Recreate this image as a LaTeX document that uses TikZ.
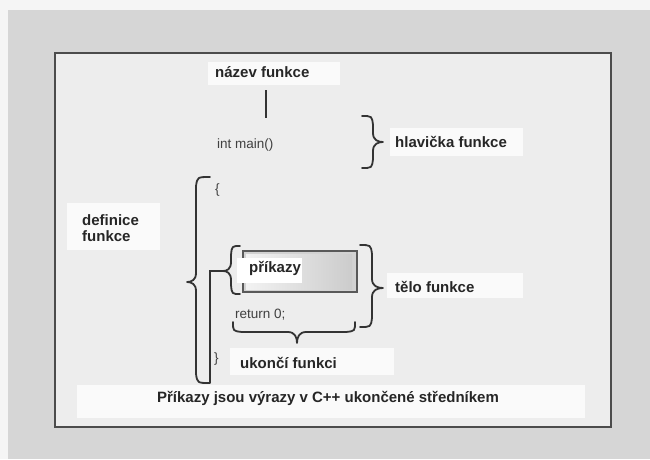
\documentclass[tikz,border=0pt]{standalone}
\usepackage{fontspec}
\setmainfont{Liberation Sans}
% vertical curly brace: end x, bar x, tip x, top y, tip y, bottom y
\newcommand{\braceV}[6]{%
  \draw[brc] (#1,#4) .. controls ({#2+0.1*(#1-#2)},#4) .. (#2,{#4+9})
    -- (#2,{#5-9}) .. controls (#2,{#5-2}) and ({0.5*(#2+#3)},#5) .. (#3,#5)
    .. controls ({0.5*(#2+#3)},#5) and (#2,{#5+2}) .. (#2,{#5+9})
    -- (#2,{#6-9}) .. controls ({#2+0.1*(#1-#2)},#6) .. (#1,#6);}
% horizontal curly brace: end y, bar y, tip y, left x, tip x, right x
\newcommand{\braceH}[6]{%
  \draw[brc] (#4,#1) .. controls (#4,{#2+0.1*(#1-#2)}) .. ({#4+9},#2)
    -- ({#5-9},#2) .. controls ({#5-2},#2) and (#5,{0.5*(#2+#3)}) .. (#5,#3)
    .. controls (#5,{0.5*(#2+#3)}) and ({#5+2},#2) .. ({#5+9},#2)
    -- ({#6-9},#2) .. controls (#6,{#2+0.1*(#1-#2)}) .. (#6,#1);}
\begin{document}
\begin{tikzpicture}[x=1pt,y=-1pt,
  lbl/.style={font=\fontsize{15}{15.5}\selectfont\bfseries, text=black!85,
    inner sep=0pt, anchor=base west, align=left},
  code/.style={font=\fontsize{13.5}{13.5}\selectfont, text=black!75,
    inner sep=0pt, anchor=base west},
  labelbg/.style={fill=white!96!gray, draw=none},
  brc/.style={draw=black!80, line width=1.8pt, line cap=round, line join=round},
]
\useasboundingbox (0,0) rectangle (650,459);
% page
\fill[gray!32] (0,0) rectangle (650,459);
\fill[gray!8] (0,0) rectangle (650,10);
\fill[gray!8] (0,0) rectangle (8,459);
% frame
\draw[draw=black!70, line width=1.8pt, fill=gray!14] (55,53) rectangle (611,427);

% label backgrounds
\fill[labelbg] (208,62) rectangle (340,85);
\fill[labelbg] (390,128) rectangle (523,156);
\fill[labelbg] (67,203) rectangle (160,250);
\fill[labelbg] (387,273) rectangle (523,298);
\fill[labelbg] (230,348) rectangle (394,375);
\fill[labelbg] (77,385) rectangle (585,418);

% function name and pointer to it
\node[lbl] (name) at (215,77) {název funkce};
\coordinate (nameA) at (266,90);
\coordinate (nameB) at (266,118);
\draw[black!80, line width=1.1pt] (nameA) -- (nameB);

% header
\node[code] (head) at (217,148) {int main()};
\braceV{362}{373}{383}{116}{142}{168}
\node[lbl] (headlbl) at (395,147) {hlavička funkce};

% definition
\node[lbl] (def) at (82,241) {definice\\funkce};
\node[code] (open) at (215,193) {\{};
\node[code] (close) at (214,362) {\}};
\braceV{210}{196}{187}{177}{282}{383}

% statements box
\draw[draw=black!65, line width=1.4pt, fill=gray!35] (243,251) rectangle (357,292);
\shade[left color=gray!10, right color=gray!40] (246,254) rectangle (352,289);
\fill[white] (237,258) rectangle (302,283);
\node[lbl] (stmt) at (249,272) {příkazy};
\braceV{240}{231}{223}{246}{271}{294}
\coordinate (tipS) at (223,271);
\coordinate (bend) at (210,271);
\coordinate (foot) at (210,383);
\draw[black!80, line width=1.3pt] (tipS) -- (bend) -- (foot);

% body
\braceV{360}{372}{383}{245}{288}{327}
\node[lbl] (body) at (395,292) {tělo funkce};

% return
\node[code] (ret) at (235,318) {return 0;};
\braceH{322}{332}{343}{233}{297}{355}
\node[lbl] (end) at (240,368) {ukončí funkci};

% caption
\node[lbl, anchor=base] (cap) at (328,402) {Příkazy jsou výrazy v C++ ukončené středníkem};
\end{tikzpicture}
\end{document}
